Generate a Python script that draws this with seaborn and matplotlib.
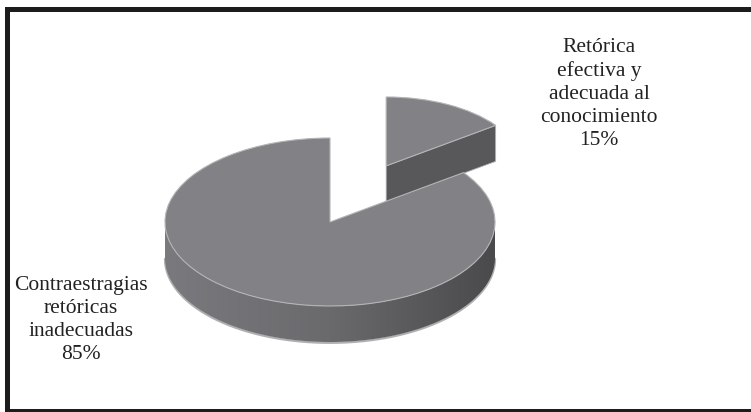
import numpy as np
import matplotlib
matplotlib.use("Agg")
import matplotlib.pyplot as plt
import seaborn as sns
from matplotlib.patches import Polygon, Rectangle
from matplotlib.colors import LinearSegmentedColormap

sns.set_theme(style="white")
plt.rcParams['font.family'] = ['Liberation Serif', 'DejaVu Serif']

# ---- data ----
categories = ["Contraestragias\nretóricas\ninadecuadas", "Retórica\nefectiva y\nadecuada al\nconocimiento"]
values = [85, 15]
pct_labels = ["85%", "15%"]

# ---- style / layout ----
W, H = 751, 412
CX, CY, RX, RY = 330, 222, 165, 84   # pixel centre and radii of the top face
DEPTH = 36 / RY                      # side height in data units
top_color = "#828286"
edge_color = "#b4b4b6"
side_cmap = LinearSegmentedColormap.from_list("side", ["#7a7a7e", "#6a6a6d", "#4a4a4c"])
cut_color = "#58585b"

fig = plt.figure(figsize=(W / 100, H / 100), dpi=100)
fig.patch.set_facecolor("white")
ax = fig.add_axes([0, 0, 1, 1])

wedges, _ = ax.pie(values, startangle=90, counterclock=True, explode=[0, 0.75],
                   colors=[top_color, top_color],
                   wedgeprops=dict(edgecolor=edge_color, linewidth=0.8))
# the exploded slice lies farther back, so it looks smaller
wedges[1].set_radius(0.82)
wedges[1].set_zorder(3)
wedges[0].set_zorder(6)


def arc_pts(c, r, a0, a1, n=200):
    t = np.radians(np.linspace(a0, a1, n))
    return np.column_stack([c[0] + r * np.cos(t), c[1] + r * np.sin(t)])


def draw_sides(w, z):
    c, r, t1, t2 = w.center, w.r, w.theta1, w.theta2
    # outer curved side: visible where the rim lies in the front half (180..360)
    for k in (-360, 0, 360):
        a0, a1 = max(t1, 180 + k), min(t2, 360 + k)
        if a1 > a0:
            top = arc_pts(c, r, a0, a1)
            bot = top[::-1] - [0, DEPTH]
            poly = Polygon(np.vstack([top, bot]), closed=True, facecolor="none",
                           edgecolor="none", zorder=z)
            ax.add_patch(poly)
            im = ax.imshow(np.linspace(0, 1, 256).reshape(1, -1), cmap=side_cmap,
                           extent=[c[0] - r, c[0] + r, c[1] - r - DEPTH, c[1]],
                           aspect="auto", zorder=z, interpolation="bilinear")
            im.set_clip_path(poly)
            ax.plot(bot[:, 0], bot[:, 1] - 0.01, color="#b0b0b2", lw=1.6, zorder=z - 0.5)
    # flat cut faces
    for a, is_start in ((t1, True), (t2, False)):
        ca = np.cos(np.radians(a))
        visible = ca > 1e-6 if is_start else ca < -1e-6
        if visible:
            p = np.array([c[0] + r * ca, c[1] + r * np.sin(np.radians(a))])
            quad = np.array([c, p, p - [0, DEPTH], np.array(c) - [0, DEPTH]])
            ax.add_patch(Polygon(quad, closed=True, facecolor=cut_color,
                                 edgecolor=edge_color, linewidth=0.6, zorder=z))


draw_sides(wedges[1], 2)
draw_sides(wedges[0], 5)

# labels
ax.text((81 - CX) / RX, (CY - 320) / RY, categories[0] + "\n" + pct_labels[0],
        ha="center", va="center", fontsize=15.5, color="#222222", linespacing=1.3, zorder=10)
ax.text((599 - CX) / RX, (CY - 94) / RY, categories[1] + "\n" + pct_labels[1],
        ha="center", va="center", fontsize=15.5, color="#222222", linespacing=1.3, zorder=10)

ax.set_aspect("auto")
ax.set_xlim((0 - CX) / RX, (W - CX) / RX)
ax.set_ylim((CY - H) / RY, CY / RY)
ax.axis("off")

# frame bands
for (x0, y0, w, h) in [(5, 7, W - 5, 5), (5, 7, 5, H - 7), (5, 409, W - 5, 3)]:
    fig.add_artist(Rectangle((x0 / W, 1 - (y0 + h) / H), w / W, h / H,
                             transform=fig.transFigure, facecolor="#1c1c1c",
                             edgecolor="none", zorder=20))

fig.savefig("out.png", dpi=100, facecolor="white")
